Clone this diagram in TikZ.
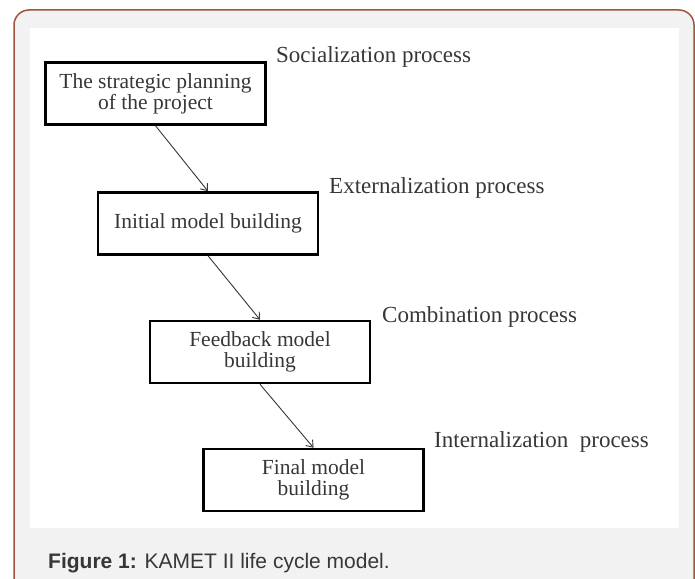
\documentclass[tikz,border=0pt]{standalone}
\usepackage{fontspec}
\setmainfont{Liberation Serif}
\newfontfamily\captionfont{Liberation Sans}
\usetikzlibrary{arrows.meta}
\definecolor{framebrown}{RGB}{160,84,62}
\definecolor{panelgray}{RGB}{242,242,242}
\definecolor{inkgray}{RGB}{55,55,55}
\begin{document}
\begin{tikzpicture}[
    x=1pt, y=-1pt,
    stage/.style={rectangle, draw=black, line width=2.5pt, text=inkgray, align=center, minimum width=220pt, minimum height=62pt, font=\fontsize{21.5}{21}\selectfont},
    process/.style={anchor=base west, inner sep=0pt, text=inkgray, font=\fontsize{23}{24}\selectfont},
    arrow/.style={-{Straight Barb[length=6pt, width=9pt]}, line width=0.9pt, draw=inkgray}
]

\useasboundingbox (0,0) rectangle (695,578);
\clip (0,0) rectangle (695,578);
\draw[framebrown, fill=panelgray, line width=1.5pt, rounded corners=15pt] (14,10) rectangle (694,594);
\fill[white] (30,28) rectangle (679,528);

\node[stage] (planning) at (155.5,93.5) {The strategic planning\\of the project};
\node[stage] (initial) at (208,223.5) {Initial model building};
\node[stage] (feedback) at (260,352) {Feedback model\\building};
\node[stage] (final) at (313.5,480) {Final model\\building};

\node[process] (social) at (276,63) {Socialization process};
\node[process] (external) at (329,193) {Externalization process};
\node[process] (combine) at (382,322) {Combination process};
\node[process] (internal) at (434,447) {Internalization\ \ process};

\draw[arrow] (planning.south) -- (initial.north);
\draw[arrow] (initial.south) -- (feedback.north);
\draw[arrow] (feedback.south) -- (final.north);

\node[anchor=base west, inner sep=0pt, text=inkgray, font=\captionfont\fontsize{21}{22}\selectfont] (caption) at (48,568) {\textbf{Figure 1:} KAMET II life cycle model.};

\end{tikzpicture}
\end{document}
